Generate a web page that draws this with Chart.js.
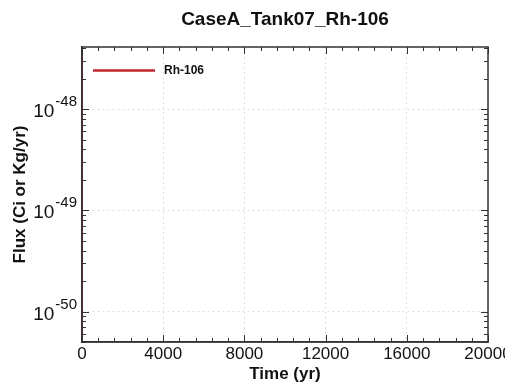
<!DOCTYPE html>
<html><head><meta charset="utf-8">
<script src="https://cdn.jsdelivr.net/npm/chart.js@4/dist/chart.umd.min.js"></script>
<style>html,body{margin:0;padding:0;background:#fff}#wrap{width:505px;height:383px}</style>
</head><body><div id="wrap"><canvas id="c" width="505" height="383"></canvas></div>
<script>
const chartTitle = 'CaseA_Tank07_Rh-106';
const seriesName = 'Rh-106';
const xAxisTitle = 'Time (yr)';
const yAxisTitle = 'Flux (Ci or Kg/yr)';
// Time (yr) and flux: a spike at t=0 that drops below the axis range at once
const timeYr = [0, 0, 20000];
const fluxRh106 = [1e-46, 1e-60, 1e-60];
const xTickValues = [0, 4000, 8000, 12000, 16000, 20000];
const xMinorStep = 800;
const yDecadeValues = [1e-50, 1e-49, 1e-48];
const yDecadeExponents = ['-50', '-49', '-48'];
const yMin = 5e-51, yMax = 4.1e-48;

const FONT = "'Liberation Sans', Arial, Helvetica, sans-serif";
const lineColor = '#c0272d';

const framePlugin = {
  id: 'framePlugin',
  afterDatasetsDraw(chart) {
    const {ctx, chartArea: a, scales: {x, y}} = chart;
    ctx.save();
    // frame
    ctx.strokeStyle = '#333';
    ctx.lineWidth = 1.5;
    ctx.strokeRect(a.left, a.top, a.right - a.left, a.bottom - a.top);
    // inward ticks
    ctx.lineWidth = 1;
    ctx.beginPath();
    for (let v = x.min; v <= x.max; v += xMinorStep) {
      const px = Math.round(x.getPixelForValue(v)) + 0.5;
      const L = xTickValues.includes(v) ? 7 : 4;
      ctx.moveTo(px, a.bottom); ctx.lineTo(px, a.bottom - L);
      ctx.moveTo(px, a.top); ctx.lineTo(px, a.top + L);
    }
    for (let e = -51; e <= -48; e++) {
      for (let m = 1; m <= 9; m++) {
        const v = m * Math.pow(10, e);
        if (v < y.min || v > y.max) continue;
        const py = Math.round(y.getPixelForValue(v)) + 0.5;
        const L = m === 1 ? 7 : 4;
        ctx.moveTo(a.left, py); ctx.lineTo(a.left + L, py);
        ctx.moveTo(a.right, py); ctx.lineTo(a.right - L, py);
      }
    }
    ctx.stroke();
    // y tick labels 10^n
    ctx.fillStyle = '#111';
    ctx.textAlign = 'left';
    ctx.textBaseline = 'alphabetic';
    yDecadeValues.forEach((v, i) => {
      const py = y.getPixelForValue(v);
      const exp = yDecadeExponents[i];
      ctx.font = '15px ' + FONT;
      const ew = ctx.measureText(exp).width;
      ctx.font = '19px ' + FONT;
      const bw = ctx.measureText('10').width;
      const right = a.left - 5;
      ctx.fillText('10', right - ew - bw - 1, py + 8);
      ctx.font = '15px ' + FONT;
      ctx.fillText(exp, right - ew, py - 3);
    });
    // legend inside plot
    ctx.strokeStyle = lineColor;
    ctx.lineWidth = 2.5;
    ctx.beginPath();
    ctx.moveTo(a.left + 11, a.top + 23.5);
    ctx.lineTo(a.left + 73, a.top + 23.5);
    ctx.stroke();
    ctx.fillStyle = '#111';
    ctx.font = 'bold 12px ' + FONT;
    ctx.textBaseline = 'middle';
    ctx.fillText(seriesName, a.left + 82, a.top + 24);
    ctx.restore();
  }
};

new Chart(document.getElementById('c'), {
  type: 'line',
  data: {
    datasets: [{
      label: seriesName,
      data: timeYr.map((t, i) => ({x: t, y: fluxRh106[i]})),
      borderColor: lineColor,
      backgroundColor: lineColor,
      borderWidth: 2,
      pointRadius: 0,
      tension: 0,
      clip: 0
    }]
  },
  options: {
    responsive: false,
    animation: false,
    devicePixelRatio: 1,
    layout: {padding: {left: 0, right: 17, top: 0, bottom: 0}},
    plugins: {
      legend: {display: false},
      tooltip: {enabled: false},
      title: {
        display: true,
        text: chartTitle,
        fullSize: false,
        color: '#111',
        font: {family: FONT, size: 19, weight: 'bold'},
        padding: {top: 8, bottom: 16.2}
      }
    },
    scales: {
      x: {
        type: 'linear',
        min: 0, max: 20000,
        afterBuildTicks: ax => { ax.ticks = xTickValues.map(v => ({value: v})); },
        afterFit: s => { s.height = 41; s.paddingLeft = 0; s.paddingRight = 0; },
        ticks: {
          autoSkip: false, maxRotation: 0,
          color: '#111',
          font: {family: FONT, size: 17},
          padding: 2,
          callback: v => String(v)
        },
        grid: {color: 'rgba(0,0,0,0.13)', lineWidth: 1, drawTicks: false},
        border: {display: true, color: '#333', width: 1.5, dash: [2, 3]},
        title: {
          display: true, text: xAxisTitle, color: '#111',
          font: {family: FONT, size: 17, weight: 'bold'},
          padding: {top: 0, bottom: -2}
        }
      },
      y: {
        type: 'logarithmic',
        min: yMin, max: yMax,
        afterBuildTicks: ax => { ax.ticks = yDecadeValues.map(v => ({value: v})); },
        afterFit: s => { s.width = 82; s.paddingTop = 0; s.paddingBottom = 0; },
        ticks: {display: false},
        grid: {color: 'rgba(0,0,0,0.13)', lineWidth: 1, drawTicks: false},
        border: {display: true, color: '#333', width: 1.5, dash: [2, 3]},
        title: {
          display: true, text: yAxisTitle, color: '#111',
          font: {family: FONT, size: 17, weight: 'bold'},
          padding: {top: 10, bottom: 0}
        }
      }
    }
  },
  plugins: [framePlugin]
});
</script>
</body></html>
